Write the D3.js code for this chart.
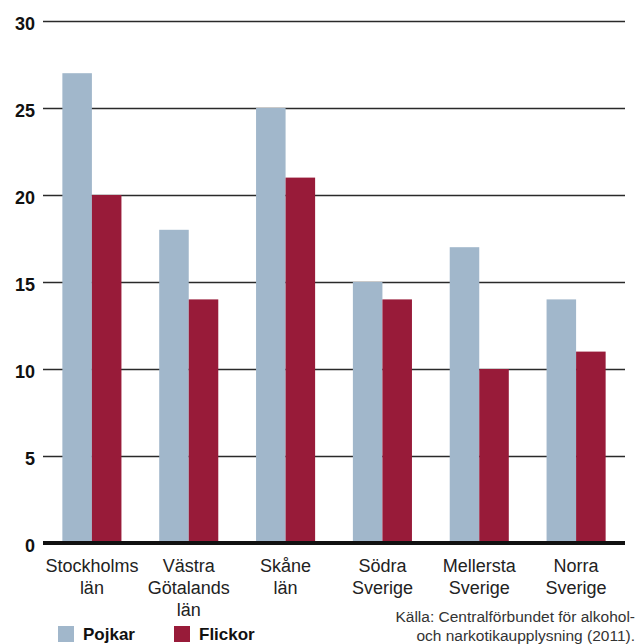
<!DOCTYPE html>
<html>
<head>
<meta charset="utf-8">
<script src="https://cdn.jsdelivr.net/npm/d3@7"></script>
<style>
  html, body { margin: 0; padding: 0; background: #fff; }
  svg { display: block; }
</style>
</head>
<body>
<div id="chart"></div>
<script>
// Regions (label lines) and percentage per region
const categories = ["Stockholms län", "Västra Götalands län", "Skåne län", "Södra Sverige", "Mellersta Sverige", "Norra Sverige"];
const categoryLines = [["Stockholms", "län"], ["Västra", "Götalands", "län"], ["Skåne", "län"], ["Södra", "Sverige"], ["Mellersta", "Sverige"], ["Norra", "Sverige"]];
const seriesNames = ["Pojkar", "Flickor"];
const pojkar = [27, 18, 25, 15, 17, 14];
const flickor = [20, 14, 21, 14, 10, 11];
const yTicks = [0, 5, 10, 15, 20, 25, 30];
const sourceLines = ["Källa: Centralförbundet för alkohol-", "och narkotikaupplysning (2011)."];

const W = 636, H = 644;
const colors = { Pojkar: "#a1b7cb", Flickor: "#981b39" };
const font = "'Liberation Sans', Arial, sans-serif";

const svg = d3.select("#chart").append("svg")
  .attr("width", W).attr("height", H)
  .style("font-family", font);

const y = d3.scaleLinear().domain([0, 30]).range([543, 21]);
const x = d3.scaleBand().domain(categories).range([43, 625]).paddingInner(0.39).paddingOuter(0.2);
const xs = d3.scaleBand().domain(seriesNames).range([0, x.bandwidth()]);

// Gridlines with labels
const yAxis = d3.axisLeft(y).tickValues(yTicks).tickSize(-(625 - 43)).tickPadding(8).tickFormat(d3.format("d"));
const gy = svg.append("g").attr("transform", "translate(43,0)").call(yAxis);
gy.select(".domain").remove();
gy.selectAll(".tick line").attr("stroke", "#2a2a2a").attr("stroke-width", 1.5);
gy.selectAll(".tick text")
  .attr("fill", "#111").attr("font-size", 18).attr("font-weight", "bold")
  .attr("font-family", font).attr("dy", "0.45em");

// Bars
const rows = categories.map((c, i) => ({ cat: c, values: [{ s: "Pojkar", v: pojkar[i] }, { s: "Flickor", v: flickor[i] }] }));
const groups = svg.append("g").selectAll("g").data(rows).join("g")
  .attr("transform", d => `translate(${x(d.cat)},0)`);
groups.selectAll("rect").data(d => d.values).join("rect")
  .attr("x", d => xs(d.s))
  .attr("width", xs.bandwidth())
  .attr("y", d => y(d.v))
  .attr("height", d => y(0) - y(d.v))
  .attr("fill", d => colors[d.s]);

// Baseline
svg.append("line")
  .attr("x1", 43).attr("x2", 625)
  .attr("y1", y(0)).attr("y2", y(0))
  .attr("stroke", "#111").attr("stroke-width", 4);

// Category labels
const catLabels = svg.append("g").selectAll("text").data(categories).join("text")
  .attr("x", d => x(d) + x.bandwidth() / 2)
  .attr("y", 572)
  .attr("text-anchor", "middle")
  .attr("font-size", 18)
  .attr("fill", "#222");
catLabels.each(function(d, i) {
  d3.select(this).selectAll("tspan").data(categoryLines[i]).join("tspan")
    .attr("x", x(d) + x.bandwidth() / 2)
    .attr("dy", (t, j) => j === 0 ? 0 : 22)
    .text(t => t);
});

// Legend
const legendPos = [58, 174];
const legend = svg.append("g").selectAll("g").data(seriesNames).join("g")
  .attr("transform", (d, i) => `translate(${legendPos[i]},626)`);
legend.append("rect").attr("width", 16).attr("height", 16).attr("fill", d => colors[d]);
legend.append("text").attr("x", 25).attr("y", 14)
  .attr("font-size", 17).attr("font-weight", "bold").attr("fill", "#111")
  .text(d => d);

// Source note
svg.append("g").selectAll("text").data(sourceLines).join("text")
  .attr("x", 635).attr("y", (d, i) => 622 + i * 19)
  .attr("text-anchor", "end")
  .attr("font-size", 15.5).attr("fill", "#333")
  .text(d => d);
</script>
</body>
</html>
